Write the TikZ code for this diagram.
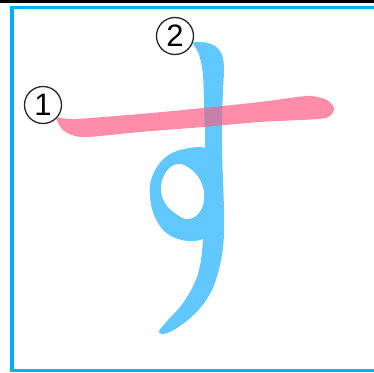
\documentclass[tikz,border=0pt]{standalone}
\usepackage{fontspec}
\setmainfont{Liberation Sans}
\newcommand\bluemainpath{plot[smooth cycle,tension=0.5] coordinates {
 (193,43) (200,42) (208,43) (215,46) (220,51) (223,58) (224,70) (223,90)
 (222,120) (222,150) (223,180) (224,210) (224,235) (222,255) (218,273)
 (212,290) (202,306) (188,320) (172,331) (162,334) (159,331) (168,320)
 (180,307) (190,292) (197,277) (201,260) (203,240) (205,220) (205,180)
 (205,140) (204,100) (203,75) (201,62) (198,52)}}
\newcommand\pinkpath{plot[smooth cycle,tension=0.5] coordinates {
 (57,118) (75,119) (140,114) (203,108) (260,102) (297,97) (312,96)
 (327,100) (334,108) (330,116) (318,119) (260,122) (203,127) (140,132)
 (88,137) (72,135) (62,129)}}
\begin{document}
\begin{tikzpicture}[x=1pt,y=-1pt,
  blueink/.style={fill=strokeblue,draw=none},
  pinkink/.style={fill=strokepink,draw=none},
  mixink/.style={fill=strokemix,draw=none},
  frameline/.style={draw=framecyan},
  numcircle/.style={circle,draw=black!85,line width=1.3pt,minimum size=37pt,inner sep=0pt,font=\fontsize{31}{31}\selectfont}]
\definecolor{strokeblue}{RGB}{96,200,255}
\definecolor{strokepink}{RGB}{255,140,168}
\definecolor{strokemix}{RGB}{198,128,170}
\definecolor{framecyan}{RGB}{0,176,240}
\useasboundingbox (0,0) rectangle (374,372);
\fill[white] (0,0) rectangle (374,372);
% top black rule
\draw[black,line width=2.5pt] (0,1.6) -- (374,1.6);
% cyan frame
\draw[frameline,line width=3pt] (10,7.5) -- (374,7.5);
\draw[frameline,line width=4pt] (12,6) -- (12,372);
\draw[frameline,line width=3pt] (10,370.5) -- (374,370.5);
% stroke 1 (pink)
\fill[pinkink] \pinkpath;
% stroke 2 (blue): loop
\fill[blueink,even odd rule]
  plot[smooth cycle,tension=0.6] coordinates {
 (205,148) (190,148) (172,153) (159,164) (151,180) (150,197) (154,215)
 (164,231) (178,239) (193,241) (205,238) (212,230) (212,160)}
  plot[smooth cycle,tension=0.7] coordinates {
 (178,164) (192,170) (202,184) (204,200) (199,213) (188,219) (176,214)
 (165,203) (161,188) (166,172)};
% stroke 2 (blue): vertical + tail
\fill[blueink] \bluemainpath;
% overlap of the two strokes
\begin{scope}
  \clip \pinkpath;
  \fill[mixink] \bluemainpath;
\end{scope}
% stroke numbers
\node[numcircle] (n1) at (43,105) {1};
\node[numcircle] (n2) at (175,36) {2};
\end{tikzpicture}
\end{document}
